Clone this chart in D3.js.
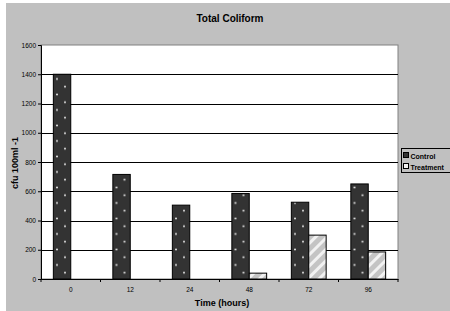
<!DOCTYPE html>
<html>
<head>
<meta charset="utf-8">
<script src="https://cdn.jsdelivr.net/npm/d3@7"></script>
<style>
body { margin: 0; background: #fff; }
text { font-family: "Liberation Sans", Arial, sans-serif; }
</style>
</head>
<body>
<div id="chart"></div>
<script>
var width = 450, height = 311;

// data
var hours = ["0", "12", "24", "48", "72", "96"];
var control = [1400, 715, 505, 585, 525, 650];
var treatment = [0, 0, 0, 40, 300, 185];
var series = ["Control", "Treatment"];
var yTicks = [0, 200, 400, 600, 800, 1000, 1200, 1400, 1600];

var plot = {left: 41, right: 398, top: 45, bottom: 279};

var svg = d3.select("#chart").append("svg")
    .attr("width", width)
    .attr("height", height);

var defs = svg.append("defs");

// dotted dark fill for control
var dots = defs.append("pattern")
    .attr("id", "dots")
    .attr("patternUnits", "userSpaceOnUse")
    .attr("width", 16)
    .attr("height", 15.5)
    .attr("x", 0).attr("y", 0);
dots.append("rect").attr("width", 16).attr("height", 15.5).attr("fill", "#333");
dots.append("circle").attr("cx", 0).attr("cy", 1.5).attr("r", 0.9).attr("fill", "#fff");
dots.append("circle").attr("cx", 16).attr("cy", 1.5).attr("r", 0.9).attr("fill", "#fff");
dots.append("circle").attr("cx", 8).attr("cy", 9.25).attr("r", 0.9).attr("fill", "#fff");

// striped light fill for treatment
var stripes = defs.append("pattern")
    .attr("id", "stripes")
    .attr("patternUnits", "userSpaceOnUse")
    .attr("width", 8)
    .attr("height", 8)
    .attr("patternTransform", "rotate(45)");
stripes.append("rect").attr("width", 8).attr("height", 8).attr("fill", "#c4c4c4");
stripes.append("rect").attr("width", 3).attr("height", 8).attr("fill", "#f2f2f2");

// background
svg.append("rect")
    .attr("x", 6).attr("y", 3)
    .attr("width", width - 6).attr("height", height - 3)
    .attr("fill", "#c0c0c0");

var x = d3.scaleBand()
    .domain(hours)
    .range([plot.left, plot.right])
    .paddingInner(0)
    .paddingOuter(0);

var inner = d3.scaleBand()
    .domain(series)
    .range([x.bandwidth() / 2 - 17.4, x.bandwidth() / 2 + 17.4]);

var y = d3.scaleLinear()
    .domain([0, 1600])
    .range([plot.bottom, plot.top]);

// plot area
svg.append("rect")
    .attr("x", plot.left).attr("y", plot.top)
    .attr("width", plot.right - plot.left)
    .attr("height", plot.bottom - plot.top)
    .attr("fill", "#fff")
    .attr("stroke", "#808080")
    .attr("stroke-width", 1);

// gridlines
svg.append("g")
    .selectAll("line")
    .data(yTicks.filter(function(d){ return d > 0 && d < 1600; }))
    .enter().append("line")
    .attr("x1", plot.left).attr("x2", plot.right)
    .attr("y1", function(d){ return Math.round(y(d)) + 0.5; })
    .attr("y2", function(d){ return Math.round(y(d)) + 0.5; })
    .attr("stroke", "#000")
    .attr("stroke-width", 1);

// bars
var groups = svg.append("g")
    .selectAll("g")
    .data(hours)
    .enter().append("g")
    .attr("transform", function(d){ return "translate(" + x(d) + ",0)"; });

groups.append("rect")
    .attr("x", inner("Control"))
    .attr("y", function(d, i){ return y(control[i]); })
    .attr("width", inner.bandwidth())
    .attr("height", function(d, i){ return y(0) - y(control[i]); })
    .attr("fill", "url(#dots)")
    .attr("stroke", "#000")
    .attr("stroke-width", 1);

groups.filter(function(d, i){ return treatment[i] > 0; })
    .append("rect")
    .attr("x", inner("Treatment"))
    .attr("y", function(d){ return y(treatment[hours.indexOf(d)]); })
    .attr("width", inner.bandwidth())
    .attr("height", function(d){ return y(0) - y(treatment[hours.indexOf(d)]); })
    .attr("fill", "url(#stripes)")
    .attr("stroke", "#000")
    .attr("stroke-width", 1);

// y axis
var yAxis = svg.append("g")
    .attr("transform", "translate(" + plot.left + ",0)")
    .call(d3.axisLeft(y).tickValues(yTicks).tickFormat(d3.format("d")).tickSize(3).tickPadding(2));
yAxis.select(".domain").attr("stroke", "#000");
yAxis.selectAll("text")
    .attr("font-size", 6.5)
    .attr("fill", "#000")
    .attr("font-family", "Liberation Sans, Arial, sans-serif");

// x axis
var xAxis = svg.append("g")
    .attr("transform", "translate(0," + plot.bottom + ")")
    .call(d3.axisBottom(x).tickSize(0).tickPadding(8));
xAxis.select(".domain").attr("stroke", "#000");
xAxis.selectAll("text")
    .attr("font-size", 6.5)
    .attr("fill", "#000")
    .attr("font-family", "Liberation Sans, Arial, sans-serif");

// category boundary ticks
svg.append("g")
    .selectAll("line")
    .data(hours.concat(["end"]))
    .enter().append("line")
    .attr("x1", function(d, i){ return plot.left + i * x.step(); })
    .attr("x2", function(d, i){ return plot.left + i * x.step(); })
    .attr("y1", plot.bottom)
    .attr("y2", plot.bottom + 3)
    .attr("stroke", "#000");

// title
svg.append("text")
    .attr("x", 230)
    .attr("y", 22)
    .attr("text-anchor", "middle")
    .attr("font-size", 10)
    .attr("font-weight", "bold")
    .text("Total Coliform");

svg.append("text")
    .attr("x", 222)
    .attr("y", 306)
    .attr("text-anchor", "middle")
    .attr("font-size", 9)
    .attr("font-weight", "bold")
    .text("Time (hours)");

svg.append("text")
    .attr("transform", "translate(18,163) rotate(-90)")
    .attr("text-anchor", "middle")
    .attr("font-size", 9)
    .attr("font-weight", "bold")
    .text("cfu 100ml -1");

// legend
var legend = svg.append("g");
legend.append("rect")
    .attr("x", 401.5).attr("y", 148.5)
    .attr("width", 60).attr("height", 24)
    .attr("fill", "#c0c0c0")
    .attr("stroke", "#000")
    .attr("stroke-width", 1);

var legendFills = ["#333", "#f2f2f2"];
series.forEach(function(s, i){
    legend.append("rect")
        .attr("x", 403.5).attr("y", 152.5 + i * 11)
        .attr("width", 5).attr("height", 5)
        .attr("fill", legendFills[i])
        .attr("stroke", "#000");
    legend.append("text")
        .attr("x", 410.5)
        .attr("y", 158.5 + i * 11)
        .attr("font-size", 7)
        .attr("font-weight", "bold")
        .text(s);
});
</script>
</body>
</html>
